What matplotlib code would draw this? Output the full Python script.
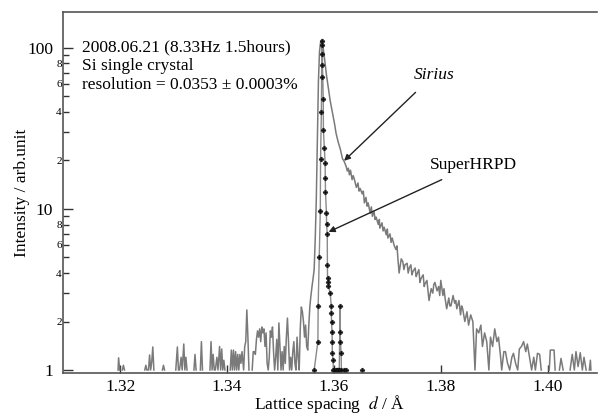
import numpy as np
import matplotlib.pyplot as plt
from matplotlib.ticker import FixedLocator, FixedFormatter

plt.rcParams['font.family'] = ['Liberation Serif', 'DejaVu Serif']
plt.rcParams['mathtext.fontset'] = 'stix'

# Sirius profile (0 = no counts, left as a gap on the log axis)
sirius_d = [
    1.3194, 1.3196, 1.3197, 1.3199, 1.3202, 1.3204, 1.3206, 1.3208, 1.3210,
    1.3245, 1.3246, 1.3248, 1.3250, 1.3253, 1.3255, 1.3257, 1.3259, 1.3261, 1.3263, 1.3265,
    1.3278, 1.3279, 1.3281, 1.3283, 1.3285,
    1.3303, 1.3304, 1.3307, 1.3309, 1.3311, 1.3314, 1.3316, 1.3319, 1.3321, 1.3323, 1.3325, 1.3327,
    1.3337, 1.3338, 1.3340, 1.3342, 1.3344,
    1.3349, 1.3350, 1.3352, 1.3354, 1.3356,
    1.3367, 1.3368, 1.3370, 1.3372, 1.3374, 1.3376, 1.3378, 1.3381, 1.3383, 1.3386, 1.3388,
    1.3390, 1.3392, 1.3394, 1.3396, 1.3398,
    1.3404, 1.3406, 1.3408, 1.3410, 1.3412, 1.3414, 1.3416, 1.3418, 1.3420, 1.3422, 1.3424,
    1.3426, 1.3428, 1.3431, 1.3433, 1.3435, 1.3437, 1.3439, 1.3441, 1.3443,
    1.3446, 1.3447, 1.3449, 1.3451, 1.3453, 1.3455, 1.3457, 1.3459, 1.3461, 1.3463, 1.3465,
    1.3467, 1.3469, 1.3471, 1.3473, 1.3475, 1.3477, 1.3479, 1.3481, 1.3483, 1.3485, 1.3487,
    1.3489, 1.3491, 1.3493, 1.3495, 1.3497, 1.3499, 1.3501, 1.3503, 1.3505, 1.3507, 1.3509,
    1.3511, 1.3513, 1.3515, 1.3517, 1.3519, 1.3521, 1.3523, 1.3525, 1.3527, 1.3529, 1.3531,
    1.3533, 1.3535, 1.3537, 1.3539, 1.3541, 1.3543, 1.3545, 1.3547, 1.3549, 1.3551, 1.3553,
    1.3555, 1.3557, 1.3559, 1.3561, 1.3563, 1.3565, 1.3567, 1.3569, 1.3571, 1.3573, 1.3575,
    1.3577, 1.3579, 1.3582, 1.3586, 1.3590, 1.3593, 1.3597, 1.3601, 1.3604, 1.3608, 1.3612,
    1.3616, 1.3619, 1.3623, 1.3625, 1.3627, 1.3629, 1.3631, 1.3634, 1.3636, 1.3638, 1.3642,
    1.3645, 1.3647, 1.3649, 1.3653, 1.3655, 1.3657, 1.3660, 1.3662, 1.3664, 1.3668, 1.3670,
    1.3672, 1.3675, 1.3677, 1.3679, 1.3683, 1.3685, 1.3686, 1.3690, 1.3692, 1.3694, 1.3698,
    1.3700, 1.3701, 1.3705, 1.3707, 1.3709, 1.3713, 1.3716, 1.3718, 1.3720, 1.3722, 1.3726,
    1.3729, 1.3731, 1.3733, 1.3737, 1.3739, 1.3741, 1.3744, 1.3746, 1.3748, 1.3752, 1.3754,
    1.3755, 1.3759, 1.3761, 1.3763, 1.3767, 1.3769, 1.3770, 1.3774, 1.3776, 1.3778, 1.3782,
    1.3785, 1.3787, 1.3789, 1.3793, 1.3796, 1.3798, 1.3800, 1.3804, 1.3806, 1.3808, 1.3811,
    1.3815, 1.3817, 1.3819, 1.3823, 1.3826, 1.3828, 1.3830, 1.3834, 1.3837, 1.3839, 1.3841,
    1.3845, 1.3849, 1.3852, 1.3856, 1.3860, 1.3864, 1.3867, 1.3871, 1.3875, 1.3878, 1.3882,
    1.3886, 1.3890, 1.3893, 1.3897, 1.3901, 1.3905, 1.3908, 1.3912, 1.3914, 1.3918, 1.3921,
    1.3925, 1.3929, 1.3933, 1.3936, 1.3940, 1.3944, 1.3947, 1.3951, 1.3955, 1.3959, 1.3962,
    1.3966, 1.3970, 1.3974, 1.3977, 1.3981, 1.3985, 1.3988, 1.3992,
    1.4001, 1.4003, 1.4005, 1.4012, 1.4014, 1.4016,
    1.4020, 1.4022, 1.4025, 1.4029, 1.4031,
    1.4040, 1.4042, 1.4046, 1.4050, 1.4053, 1.4057, 1.4061, 1.4065, 1.4068, 1.4072, 1.4074,
    1.4076, 1.4078, 1.4080, 1.4081, 1.4083,
]
sirius_i = [
    0, 1.0, 1.19, 1.0, 0, 1.0, 1.07, 1.0, 0,
    0, 1.0, 1.07, 1.0, 1.0, 1.24, 1.0, 1.12, 1.39, 1.0, 0,
    0, 1.0, 1.07, 1.0, 0,
    0, 1.0, 1.39, 1.0, 1.0, 1.2, 1.0, 1.45, 1.0, 1.2, 1.0, 0,
    0, 1.0, 1.25, 1.0, 0,
    0, 1.0, 1.5, 1.0, 0,
    0, 1.0, 1.5, 1.0, 1.25, 1.0, 1.0, 1.2, 1.0, 1.4, 1.0,
    1.35, 1.0, 1.15, 1.0, 0,
    0, 1.0, 1.33, 1.0, 1.33, 1.0, 1.3, 1.0, 1.25, 1.0, 1.25,
    1.1, 1.3, 1.0, 1.4, 1.5, 2.36, 1.6, 1.0, 0,
    0, 1.0, 1.3, 1.3, 1.25, 1.55, 1.75, 1.6, 1.8, 1.5, 1.85,
    1.7, 1.8, 1.4, 1.7, 1.1, 1.0, 1.2, 1.75, 1.6, 1.85, 1.3,
    1.0, 1.2, 1.55, 1.0, 1.96, 1.4, 1.0, 1.3, 1.0, 1.4, 1.1,
    1.6, 2.1, 1.5, 1.0, 1.2, 1.0, 1.3, 1.5, 1.1, 1.0, 1.6,
    1.2, 1.0, 1.8, 2.46, 2.3, 2.0, 1.6, 1.9, 1.4, 1.33, 1.9,
    2.5, 2.9, 3.3, 3.7, 4.2, 6.5, 11.4, 27, 62, 95, 108,
    112, 105, 88, 68, 55, 47, 40, 34, 29.5, 26, 23.5,
    20.5, 19.8, 18.3, 17.2, 17.9, 16.3, 17.4, 15.2, 16.1, 15.4, 13.6,
    14.5, 12.9, 13.4, 12.4, 12.9, 10.9, 11.8, 10.4, 10.9, 9.4, 10.3,
    9.0, 9.7, 8.6, 8.9, 8.0, 8.6, 7.6, 8.2, 7.3, 7.7, 6.9,
    7.5, 6.6, 7.0, 6.2, 6.6, 5.9, 5.6, 5.9, 4.8, 4.0, 4.9,
    4.7, 4.2, 4.5, 4.6, 4.0, 4.3, 4.5, 3.9, 4.1, 4.3, 3.8,
    3.9, 4.2, 3.5, 3.7, 3.9, 3.3, 3.4, 3.6, 3.1, 2.7, 3.2,
    3.0, 3.4, 3.5, 3.1, 3.3, 2.9, 3.6, 2.9, 3.2, 2.8, 2.4,
    2.8, 2.5, 2.5, 2.9, 2.6, 2.7, 2.4, 2.7, 2.2, 2.5, 2.4,
    2.0, 2.3, 1.9, 2.2, 2.0, 1.0, 1.8, 1.7, 1.9, 1.4, 1.7,
    1.5, 1.0, 1.6, 1.4, 1.8, 1.5, 1.6, 1.2, 1.0, 1.3, 1.3,
    1.1, 1.0, 1.2, 1.27, 1.1, 1.0, 1.35, 1.4, 1.5, 1.3, 1.45,
    1.2, 1.0, 1.2, 1.0, 1.27, 1.25, 1.0, 0,
    0, 1.0, 1.33, 1.33, 1.0, 0,
    0, 1.0, 1.18, 1.0, 0,
    0, 1.0, 1.25, 1.0, 1.3, 1.05, 1.28, 1.0, 1.2, 1.0, 0,
    0, 1.0, 1.15, 1.0, 0,
]

# SuperHRPD profile
hrpd_d = [
    1.35630, 1.35700, 1.35705, 1.35725, 1.35745, 1.35750, 1.35765, 1.35770, 1.35772,
    1.35775, 1.35782, 1.35786, 1.35800, 1.35803, 1.35820, 1.35835, 1.35838, 1.35842,
    1.35860, 1.35862, 1.35875, 1.35878, 1.35880, 1.35895, 1.35898, 1.35930, 1.35950,
    1.35952, 1.35955, 1.35965, 1.35968, 1.35970, 1.35985, 1.35990, 1.36010, 1.36030,
    1.36050, 1.36080, 1.36100, 1.36115, 1.36118, 1.36122, 1.36135, 1.36140, 1.36180,
    1.36230, 1.36440, 1.36530,
]
hrpd_i = [
    1.0, 1.5, 2.5, 5.0, 9.7, 20.5, 40, 66, 92,
    104, 110, 78, 48, 31, 24, 19.3, 15.6, 12.8,
    9.4, 8.1, 7.0, 4.5, 3.7, 3.5, 3.3, 3.0, 2.5,
    2.26, 1.99, 1.72, 1.49, 1.27, 1.15, 1.0, 1.0, 1.0,
    1.0, 1.0, 1.0, 2.5, 1.72, 1.49, 1.27, 1.0, 1.0,
    1.0, 0, 1.0,
]

y_major = [1, 10, 100]
y_minor = [2, 3, 4, 5, 6, 7, 8, 9, 20, 30, 40, 50, 60, 70, 80, 90]
y_minor_labels = ['2', '', '4', '', '6', '', '8', '',
                  '2', '', '4', '', '6', '', '8', '']
x_ticks = [1.32, 1.34, 1.36, 1.38, 1.40]

sirius_i = np.array(sirius_i, dtype=float)
sirius_i[sirius_i <= 0] = np.nan
hrpd_i = np.array(hrpd_i, dtype=float)
hrpd_i[hrpd_i <= 0] = np.nan

fig = plt.figure(figsize=(5.98, 4.17), dpi=100)
ax = fig.add_axes([0.1054, 0.1055, 0.8926, 0.8657])

ax.plot(sirius_d, sirius_i, color='#7a7a7a', lw=1.1)
ax.plot(hrpd_d, hrpd_i, color='#8a8a8a', lw=1.0, marker='P', ms=3.4,
        mfc='#111111', mec='#111111', mew=0.3)

ax.set_yscale('log')
ax.set_xlim(1.3093, 1.4092)
ax.set_ylim(0.958, 167)

ax.yaxis.set_major_locator(FixedLocator(y_major))
ax.yaxis.set_major_formatter(FixedFormatter([str(v) for v in y_major]))
ax.yaxis.set_minor_locator(FixedLocator(y_minor))
ax.yaxis.set_minor_formatter(FixedFormatter(y_minor_labels))
ax.set_xticks(x_ticks)
ax.set_xticklabels(['%.2f' % v for v in x_ticks])

ax.tick_params(axis='y', which='major', direction='in', length=7, width=1.0,
               labelsize=12.5, pad=7, color='#333333')
ax.tick_params(axis='y', which='minor', direction='in', length=4, width=1.0,
               labelsize=8, pad=1, color='#333333')
ax.tick_params(axis='x', which='major', direction='in', length=6, width=1.0,
               labelsize=12.5, pad=4, color='#333333')
ax.tick_params(axis='x', which='minor', length=0)

for side in ['left', 'bottom', 'top']:
    ax.spines[side].set_color('#555555')
    ax.spines[side].set_linewidth(1.2)
ax.spines['right'].set_visible(False)

ax.set_ylabel('Intensity / arb.unit', fontsize=12.5)
ax.yaxis.set_label_coords(-0.062, 0.5)
ax.set_xlabel(r'Lattice spacing  $d$ / Å', fontsize=12.5, labelpad=-1)

ax.text(0.036, 0.925, '2008.06.21 (8.33Hz 1.5hours)\nSi single crystal\n'
        'resolution = 0.0353 ± 0.0003%', transform=ax.transAxes,
        fontsize=12.5, va='top', ha='left', linespacing=1.25)

ax.annotate('Sirius', xy=(1.3619, 19.9), xytext=(1.3787, 68),
            fontsize=12.5, style='italic', ha='center', va='center',
            arrowprops=dict(arrowstyle='-|>', color='#222222', lw=1.0,
                            shrinkA=7, shrinkB=0, mutation_scale=9))
ax.annotate('SuperHRPD', xy=(1.3590, 7.2), xytext=(1.3862, 18.8),
            fontsize=12.5, ha='center', va='center',
            arrowprops=dict(arrowstyle='-|>', color='#222222', lw=1.0,
                            shrinkA=7, shrinkB=0, mutation_scale=9))

fig.savefig('out.png', dpi=100)
